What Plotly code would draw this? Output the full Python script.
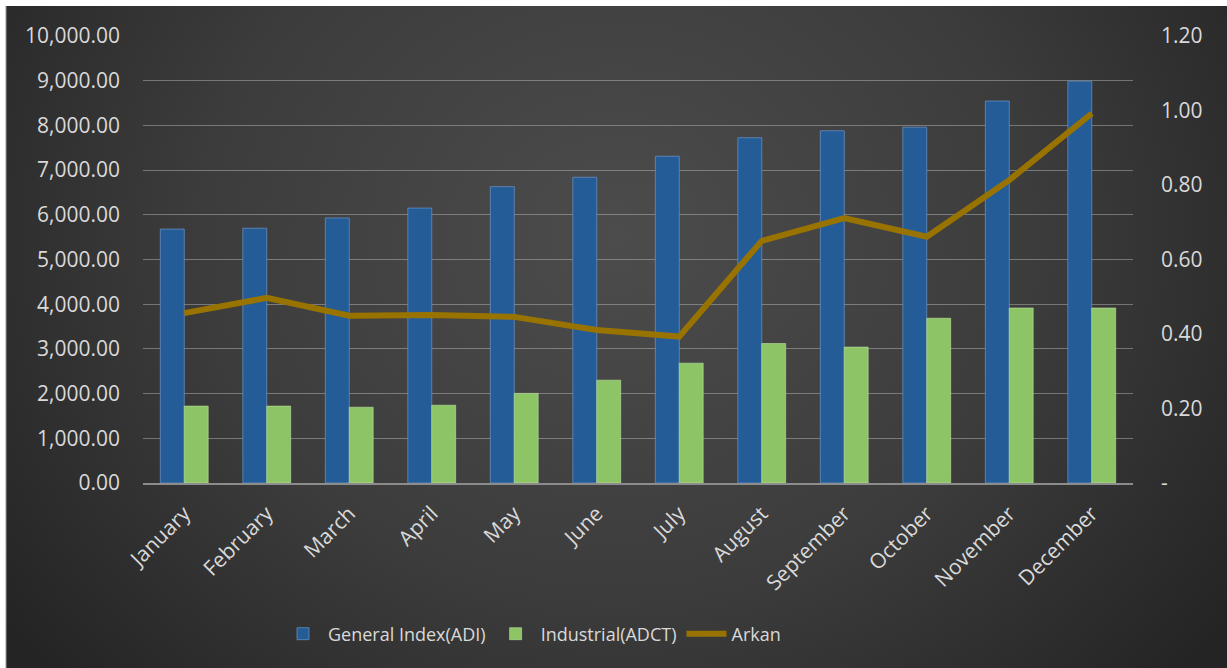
import base64
import plotly.graph_objects as go

months = ["January", "February", "March", "April", "May", "June", "July",
          "August", "September", "October", "November", "December"]
general_index = [5680, 5700, 5930, 6150, 6630, 6840, 7310, 7725, 7880, 7960, 8545, 8990]
industrial = [1720, 1720, 1695, 1740, 2005, 2300, 2680, 3120, 3040, 3685, 3915, 3915]
arkan = [0.456, 0.497, 0.449, 0.451, 0.446, 0.411, 0.393, 0.650, 0.711, 0.661, 0.813, 0.992]

left_ticks = [0, 1000, 2000, 3000, 4000, 5000, 6000, 7000, 8000, 9000, 10000]
right_ticks = [0, 0.2, 0.4, 0.6, 0.8, 1.0, 1.2]
right_tick_text = ["-", "0.20", "0.40", "0.60", "0.80", "1.00", "1.20"]

W, H = 1227, 668
ML, MR, MT, MB = 143, 94, 36, 185
PW, PH = W - ML - MR, H - MT - MB

svg = """<svg xmlns='http://www.w3.org/2000/svg' width='1221' height='662' viewBox='0 0 1221 662' preserveAspectRatio='none'>
<defs><radialGradient id='g' cx='0.5' cy='0.35' r='0.62' gradientTransform='translate(0.5 0.35) scale(1 1.6) translate(-0.5 -0.35)'>
<stop offset='0' stop-color='#4c4c4c'/><stop offset='0.55' stop-color='#3c3c3c'/><stop offset='1' stop-color='#242424'/></radialGradient></defs>
<rect width='1221' height='662' fill='url(#g)'/></svg>"""
bg_src = "data:image/svg+xml;base64," + base64.b64encode(svg.encode()).decode()

font_family = "'Open Sans', sans-serif"
text_color = "#d9d9d9"

fig = go.Figure()
fig.add_trace(go.Bar(
    x=months, y=general_index, name="General Index(ADI)",
    marker=dict(color="#245c98", line=dict(color="rgba(110,150,200,0.7)", width=1)),
))
fig.add_trace(go.Bar(
    x=months, y=industrial, name="Industrial(ADCT)",
    marker=dict(color="#8cc466", line=dict(color="rgba(190,230,160,0.6)", width=1)),
))
fig.add_trace(go.Scatter(
    x=months, y=arkan, name="Arkan", yaxis="y2", mode="lines",
    line=dict(color="#997300", width=6),
))

fig.update_layout(
    width=W, height=H,
    margin=dict(l=ML, r=MR, t=MT, b=MB, pad=0),
    paper_bgcolor="white",
    plot_bgcolor="rgba(0,0,0,0)",
    barmode="group", bargap=0.42, bargroupgap=0,
    font=dict(family=font_family, color=text_color, size=20),
    xaxis=dict(
        tickangle=-45, tickfont=dict(size=21, color=text_color),
        showgrid=False, showline=True, linecolor="#8c8c8c", linewidth=2,
        ticks="", ticklabelstandoff=8,
    ),
    yaxis=dict(
        range=[0, 10000], tickvals=left_ticks, tickformat=",.2f",
        showgrid=True, gridcolor="rgba(205,205,205,0.42)", gridwidth=1,
        zeroline=False, ticks="", ticklabelstandoff=22,
        tickfont=dict(size=21, color=text_color),
    ),
    yaxis2=dict(
        range=[0, 1.2], tickvals=right_ticks, ticktext=right_tick_text,
        overlaying="y", side="right", showgrid=False, zeroline=False,
        ticks="", ticklabelstandoff=27,
        tickfont=dict(size=21, color=text_color),
    ),
    legend=dict(
        orientation="h", x=(278 - ML) / PW, xanchor="left",
        y=(MT + PH - 634) / PH, yanchor="middle",
        font=dict(size=18, color=text_color), bgcolor="rgba(0,0,0,0)",
        itemwidth=40, tracegroupgap=0,
    ),
    showlegend=True,
    images=[dict(
        source=bg_src, xref="paper", yref="paper",
        x=(6 - ML) / PW, y=1 + (MT - 6) / PH,
        sizex=(W - 6) / PW, sizey=(H - 6) / PH,
        xanchor="left", yanchor="top", sizing="stretch", layer="below",
    )],
    shapes=[dict(
        type="line", xref="paper", yref="paper",
        x0=(6 - ML) / PW, x1=(6 - ML) / PW, y0=-(MB) / PH, y1=1 + (MT - 6) / PH,
        line=dict(color="#9a9a9a", width=1),
    )],
)

fig.write_html("out.html")
